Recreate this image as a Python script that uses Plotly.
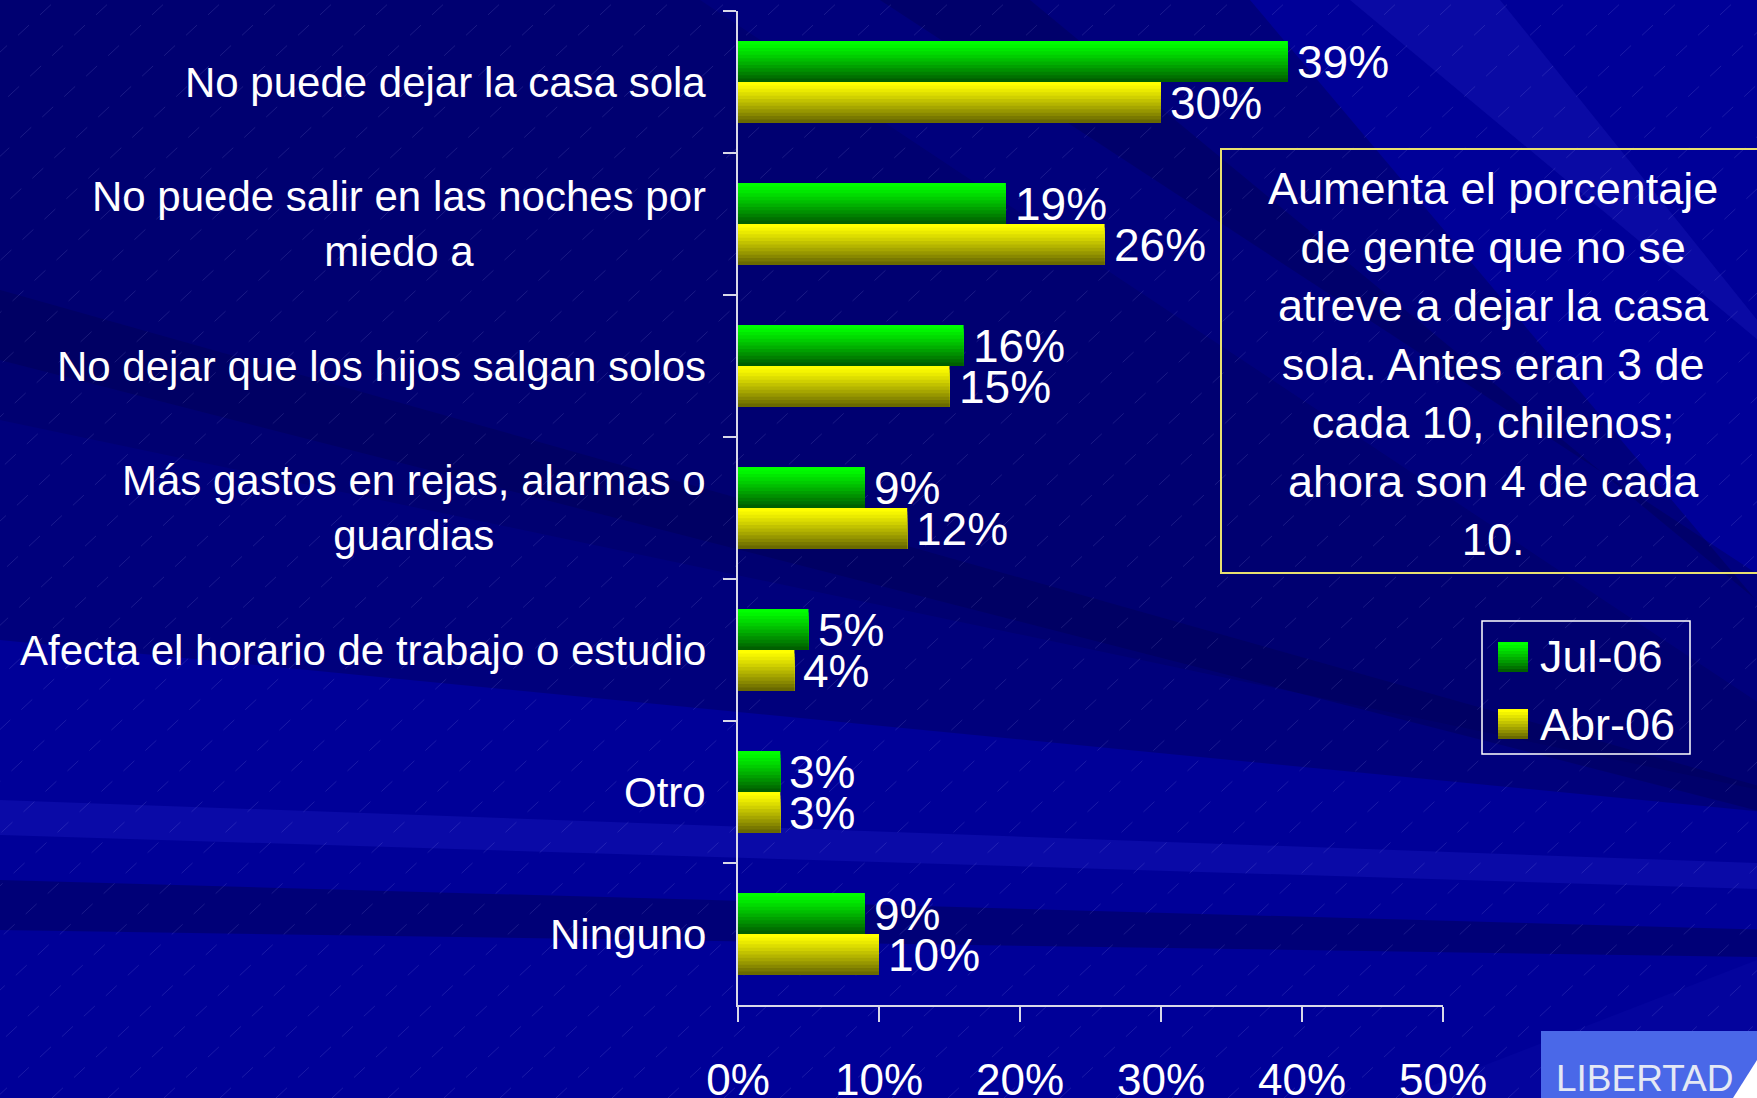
import plotly.graph_objects as go

# ---------------- data ----------------
categories = [
    "No puede dejar la casa sola",
    "No puede salir en las noches por<br>miedo a",
    "No dejar que los hijos salgan solos",
    "Más gastos en rejas, alarmas o<br>guardias",
    "Afecta el horario de trabajo o estudio",
    "Otro",
    "Ninguno",
]
series_names = ["Jul-06", "Abr-06"]
jul_06 = [39, 19, 16, 9, 5, 3, 9]
abr_06 = [30, 26, 15, 12, 4, 3, 10]
x_tickvals = [0, 10, 20, 30, 40, 50]
x_ticktext = ["0%", "10%", "20%", "30%", "40%", "50%"]
note_text = ("Aumenta el porcentaje<br>de gente que no se<br>atreve a dejar la casa<br>"
             "sola. Antes eran 3 de<br>cada 10, chilenos;<br>ahora son 4 de cada<br>10.")
logo_text = "LIBERTAD"

# ---------------- geometry helpers (figure pixels -> paper) ----------------
W, H = 1757, 1098
L, R, T, B = 738, 1443, 11, 1005


def px(x):
    return (x - L) / (R - L)


def py(y):
    return (B - y) / (B - T)


FONT = "Liberation Sans, Arial, sans-serif"
N = 12
BAR_W = 0.288


def grad(top, bottom, t):
    t = t ** 1.15
    return "rgb(%d,%d,%d)" % tuple(round(a + (b - a) * t) for a, b in zip(top, bottom))


GREEN = ((0, 255, 0), (0, 95, 0))
YELLOW = ((255, 255, 0), (105, 105, 0))

fig = go.Figure()

for vals, cols, off in [(jul_06, GREEN, -BAR_W), (abr_06, YELLOW, 0.0)]:
    for k in range(N):
        start = off + k * BAR_W / N
        fig.add_trace(go.Bar(
            y=categories, x=vals, orientation="h",
            offset=start, width=off + BAR_W - start,
            marker=dict(color=grad(cols[0], cols[1], k / (N - 1)), line=dict(width=0)),
            showlegend=False, hoverinfo="skip",
        ))

shapes = []


def poly(points, color):
    path = "M " + " L ".join("%f,%f" % (px(x), py(y)) for x, y in points) + " Z"
    shapes.append(dict(type="path", xref="paper", yref="paper", path=path,
                       fillcolor=color, line=dict(width=0), layer="below"))


# background rays
poly([(0, 0), (1250, 0), (1950, 830), (0, 640)], "rgba(0,0,90,0.45)")
poly([(0, 0), (700, 0), (1950, 830), (0, 420)], "rgba(0,0,80,0.25)")
poly([(880, 0), (1030, 0), (1950, 760), (1950, 700)], "rgba(0,0,70,0.30)")
poly([(1350, 0), (1500, 0), (1950, 560), (1950, 500)], "rgba(40,40,200,0.25)")
poly([(0, 290), (0, 360), (1950, 860), (1950, 840)], "rgba(0,0,70,0.30)")
poly([(0, 800), (0, 835), (1950, 895), (1950, 870)], "rgba(40,40,210,0.25)")
poly([(0, 880), (0, 930), (1950, 960), (1950, 935)], "rgba(0,0,80,0.45)")
poly([(1400, 1098), (1757, 1098), (1757, 960)], "rgba(20,20,180,0.20)")

# faint diagonal hatch lines
dx = 1180
x0 = -dx
while x0 < W + 40:
    shapes.append(dict(type="line", xref="paper", yref="paper",
                       x0=px(x0), y0=py(H), x1=px(x0 + dx), y1=py(0),
                       line=dict(color="rgba(190,190,255,0.14)", width=1, dash="longdash"),
                       layer="below"))
    x0 += 56

# note box
shapes.append(dict(type="rect", xref="paper", yref="paper",
                   x0=px(1221), y0=py(573), x1=px(1780), y1=py(149),
                   line=dict(color="#e8e070", width=2), fillcolor="rgba(0,0,0,0)", layer="above"))
# legend box
shapes.append(dict(type="rect", xref="paper", yref="paper",
                   x0=px(1482), y0=py(754), x1=px(1690), y1=py(621),
                   line=dict(color="#ffffff", width=1.5), fillcolor="rgba(0,0,0,0)", layer="above"))
# legend swatches (gradient)
for (top_y, cols) in [(642, GREEN), (709, YELLOW)]:
    M = 10
    for k in range(M):
        shapes.append(dict(type="rect", xref="paper", yref="paper",
                           x0=px(1498), x1=px(1528),
                           y0=py(top_y + 30), y1=py(top_y + 30 * k / M),
                           fillcolor=grad(cols[0], cols[1], k / (M - 1)),
                           line=dict(width=0), layer="above"))
# logo
shapes.append(dict(type="rect", xref="paper", yref="paper",
                   x0=px(1541), y0=py(1110), x1=px(1770), y1=py(1031),
                   fillcolor="#4a68e8", line=dict(width=0), layer="above"))
shapes.append(dict(type="path", xref="paper", yref="paper",
                   path="M %f,%f L %f,%f L %f,%f Z" % (px(1733), py(1098), px(1757), py(1060),
                                                       px(1775), py(1098)),
                   fillcolor="#ffffff", line=dict(width=0), layer="above"))

annotations = []
# category labels
for c in categories:
    annotations.append(dict(xref="paper", yref="y", x=px(708), y=c, text=c,
                            xanchor="right", yanchor="middle", align="center", showarrow=False,
                            font=dict(family=FONT, size=42, color="white")))
# data labels
for vals, ysh in [(jul_06, 20.5), (abr_06, -20.5)]:
    for c, v in zip(categories, vals):
        annotations.append(dict(xref="x", yref="y", x=v, y=c, text="%d%%" % v,
                                xanchor="left", yanchor="middle", xshift=7, yshift=ysh,
                                showarrow=False,
                                font=dict(family=FONT, size=46, color="white")))
# legend labels
for name, yc in zip(series_names, [657, 724]):
    annotations.append(dict(xref="paper", yref="paper", x=px(1538), y=py(yc), text=name,
                            xanchor="left", yanchor="middle", showarrow=False,
                            font=dict(family=FONT, size=45, color="white")))
# note text
annotations.append(dict(xref="paper", yref="paper", x=px(1493), y=py(364), text=note_text,
                        xanchor="center", yanchor="middle", align="center", showarrow=False,
                        font=dict(family=FONT, size=45, color="white")))
# logo text
annotations.append(dict(xref="paper", yref="paper", x=px(1554), y=py(1056), text=logo_text,
                        xanchor="left", yanchor="top", showarrow=False,
                        font=dict(family=FONT, size=37, color="#e4e8f4")))

axis_col = "#d8d8e8"
fig.update_layout(
    width=W, height=H, autosize=False,
    margin=dict(l=L, r=W - R, t=T, b=H - B, pad=0, autoexpand=False),
    paper_bgcolor="#000098", plot_bgcolor="rgba(0,0,0,0)",
    barmode="overlay", showlegend=False,
    shapes=shapes, annotations=annotations,
    xaxis=dict(range=[0, 50], tickvals=x_tickvals, ticktext=x_ticktext, automargin=False,
               showgrid=False, zeroline=False, showline=True, linecolor=axis_col, linewidth=1.5,
               ticks="outside", ticklen=15, tickwidth=1.5, tickcolor=axis_col,
               tickfont=dict(family=FONT, size=44, color="white"), ticklabelstandoff=20),
    yaxis=dict(type="category", categoryorder="array", categoryarray=categories,
               range=[6.5, -0.5], tickson="boundaries", showticklabels=False, automargin=False,
               showgrid=False, zeroline=False, showline=True, linecolor=axis_col, linewidth=1.5,
               ticks="outside", ticklen=13, tickwidth=1.5, tickcolor=axis_col),
)

fig.write_html("out.html", config={"displayModeBar": False},
               post_script="document.body.style.margin='0';document.body.style.overflow='hidden';")
